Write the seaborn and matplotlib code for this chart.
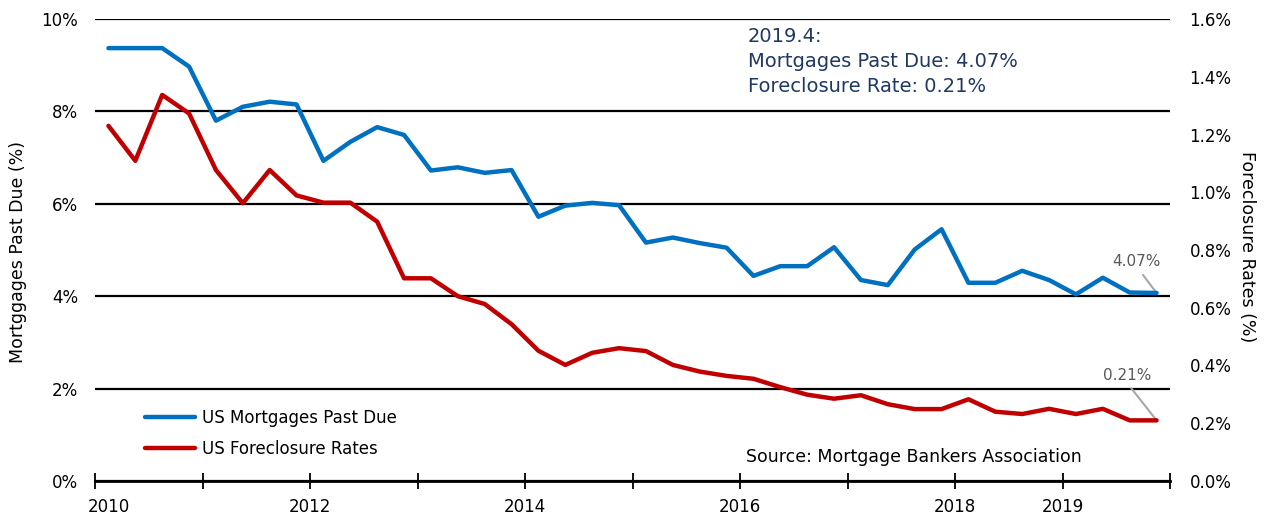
import matplotlib
matplotlib.use("Agg")
import matplotlib.pyplot as plt
from matplotlib.ticker import FuncFormatter, FixedLocator
import seaborn as sns
import pandas as pd

quarters = ["2010Q1", "2010Q2", "2010Q3", "2010Q4", "2011Q1", "2011Q2", "2011Q3", "2011Q4",
            "2012Q1", "2012Q2", "2012Q3", "2012Q4", "2013Q1", "2013Q2", "2013Q3", "2013Q4",
            "2014Q1", "2014Q2", "2014Q3", "2014Q4", "2015Q1", "2015Q2", "2015Q3", "2015Q4",
            "2016Q1", "2016Q2", "2016Q3", "2016Q4", "2017Q1", "2017Q2", "2017Q3", "2017Q4",
            "2018Q1", "2018Q2", "2018Q3", "2018Q4", "2019Q1", "2019Q2", "2019Q3", "2019Q4"]

past_due = [9.37, 9.37, 9.37, 8.97, 7.80, 8.10, 8.21, 8.15, 6.93, 7.34, 7.66, 7.49,
            6.72, 6.79, 6.67, 6.73, 5.72, 5.96, 6.02, 5.97, 5.16, 5.27, 5.15, 5.05,
            4.44, 4.65, 4.65, 5.06, 4.35, 4.24, 5.01, 5.45, 4.29, 4.29, 4.55, 4.35,
            4.04, 4.40, 4.08, 4.07]

foreclosure = [1.230, 1.109, 1.337, 1.273, 1.077, 0.962, 1.077, 0.989, 0.964, 0.964, 0.898, 0.702,
               0.702, 0.640, 0.613, 0.543, 0.451, 0.402, 0.444, 0.460, 0.450, 0.402, 0.379, 0.364,
               0.354, 0.325, 0.299, 0.285, 0.297, 0.266, 0.249, 0.249, 0.283, 0.240, 0.232, 0.250,
               0.232, 0.250, 0.21, 0.21]

year_labels = ["2010", "2012", "2014", "2016", "2018", "2019"]
year_label_pos = [0, 7.5, 15.5, 23.5, 31.5, 35.5]

left_ticks = [0, 2, 4, 6, 8, 10]
right_ticks = [0.0, 0.2, 0.4, 0.6, 0.8, 1.0, 1.2, 1.4, 1.6]

series_names = ["US Mortgages Past Due", "US Foreclosure Rates"]
title_text = "2019.4:\nMortgages Past Due: 4.07%\nForeclosure Rate: 0.21%"
source_text = "Source: Mortgage Bankers Association"

BLUE = "#0070C0"
RED = "#C00000"
NAVY = "#1F3864"

sns.set_style("white")
plt.rcParams['font.family'] = ['DejaVu Sans']
plt.rcParams['text.color'] = 'black'
plt.rcParams['xtick.color'] = 'black'
plt.rcParams['ytick.color'] = 'black'
plt.rcParams['axes.labelcolor'] = 'black'

df = pd.DataFrame({"idx": range(len(quarters)), "quarter": quarters,
                   "past_due": past_due, "foreclosure": foreclosure})

W, H = 1267, 520
fig = plt.figure(figsize=(W / 100, H / 100), dpi=100)
ax = fig.add_axes([95 / W, 1 - 481 / H, 1075 / W, 462 / H])
ax2 = ax.twinx()

# left axis
ax.set_xlim(-0.5, 39.5)
ax.set_ylim(0, 10)
ax.set_yticks(left_ticks)
ax.yaxis.set_major_formatter(FuncFormatter(lambda v, p: f"{v:.0f}%"))
ax.yaxis.grid(True, color="black", lw=1.6)
ax.set_axisbelow(True)
for s in ["left", "right", "top"]:
    ax.spines[s].set_visible(False)
ax.spines["bottom"].set_color("black")
ax.spines["bottom"].set_linewidth(2.0)
ax.tick_params(axis="y", length=0, pad=12, labelsize=12, labelcolor="black")

# x ticks
ax.xaxis.remove_overlapping_locs = False
ax.xaxis.set_major_locator(FixedLocator(year_label_pos))
ax.set_xticklabels(year_labels)
ax.xaxis.set_minor_locator(FixedLocator([-0.5 + 4 * k for k in range(11)]))
ax.tick_params(axis="x", which="major", bottom=True, length=0, pad=12, labelsize=12,
               labelcolor="black")
ax.tick_params(axis="x", which="minor", bottom=True, direction="inout", length=12,
               width=1.3, color="black")

# right axis
ax2.set_ylim(0, 1.6)
ax2.set_yticks(right_ticks)
ax2.yaxis.set_major_formatter(FuncFormatter(lambda v, p: f"{v:.1f}%"))
for s in ["left", "right", "top", "bottom"]:
    ax2.spines[s].set_visible(False)
ax2.tick_params(axis="y", length=0, pad=14, labelsize=12, labelcolor="black")
ax2.grid(False)

sns.lineplot(data=df, x="idx", y="past_due", ax=ax, color=BLUE, lw=3.2,
             label=series_names[0], legend=False, zorder=5)
sns.lineplot(data=df, x="idx", y="foreclosure", ax=ax2, color=RED, lw=3.2,
             label=series_names[1], legend=False, zorder=5)
ax.set_xlabel("")
ax.set_ylabel("")
ax2.set_xlabel("")
ax2.set_ylabel("")
ax.set_xlim(-0.5, 39.5)

# axis titles
fig.text(18 / W, 1 - 252 / H, "Mortggages Past Due (%)", rotation=90,
         ha="center", va="center", fontsize=12.5, color="black")
fig.text(1247 / W, 1 - 247 / H, "Foreclosure Rates (%)", rotation=270,
         ha="center", va="center", fontsize=12.5, color="black")

# legend
h1 = ax.get_lines()[0]
h2 = ax2.get_lines()[0]
leg = fig.legend([h1, h2], series_names, loc="upper left",
                 bbox_to_anchor=(145 / W, 1 - 409 / H), frameon=False,
                 handlelength=3.0, handletextpad=0.4, labelspacing=0.75,
                 borderpad=0, borderaxespad=0, fontsize=12)
for t in leg.get_texts():
    t.set_color("black")

# annotations for last values
ax.annotate(f"{past_due[-1]:.2f}%", xy=(len(past_due) - 1, past_due[-1]),
            xytext=(38.25, 4.58), ha="center", va="bottom", color="#595959", fontsize=11,
            arrowprops=dict(arrowstyle="-", color="#A6A6A6", lw=1.5, shrinkA=2, shrinkB=0,
                            relpos=(0.55, 0)))
ax2.annotate(f"{foreclosure[-1]:.2f}%", xy=(len(foreclosure) - 1, foreclosure[-1]),
             xytext=(37.9, 0.34), ha="center", va="bottom", color="#595959", fontsize=11,
             arrowprops=dict(arrowstyle="-", color="#A6A6A6", lw=1.5, shrinkA=2, shrinkB=0,
                             relpos=(0.5, 0)))

fig.text(748 / W, 1 - 27 / H, title_text, ha="left", va="top", color=NAVY,
         fontsize=14, linespacing=1.4)
fig.text(746 / W, 1 - 457 / H, source_text, ha="left", va="center", fontsize=12.5,
         color="black")

fig.savefig("out.png", dpi=100)
